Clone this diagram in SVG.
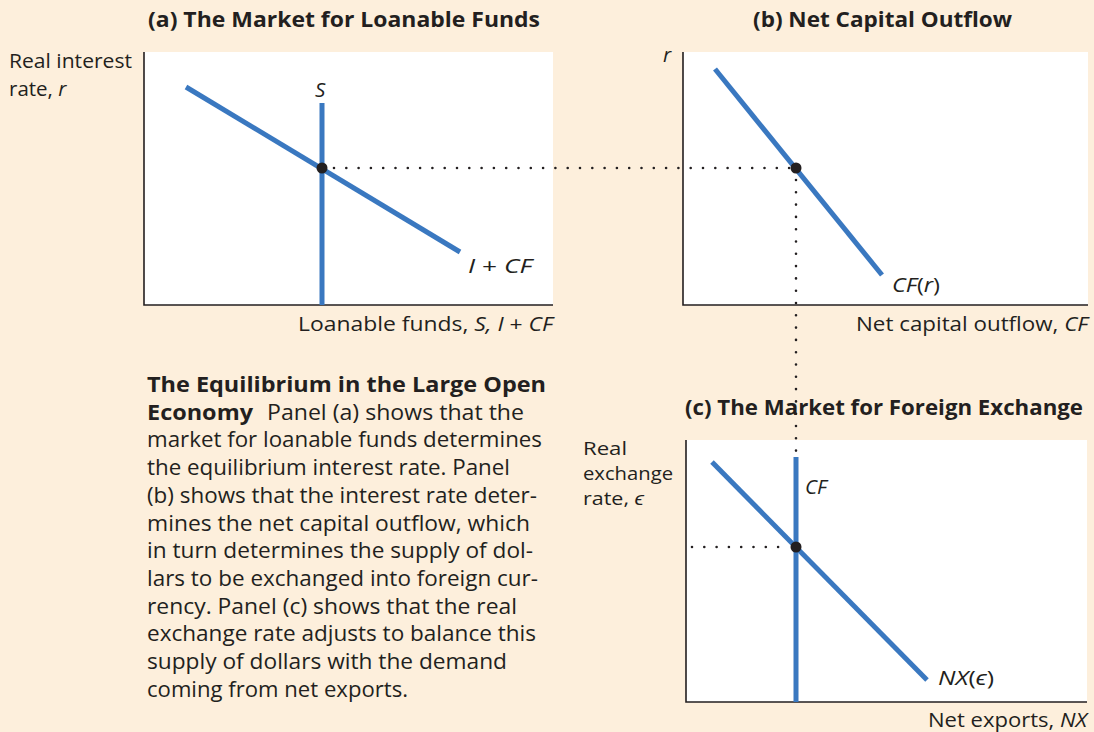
<svg xmlns="http://www.w3.org/2000/svg" width="1094" height="732" viewBox="0 0 1094 732">
<style>
.t{font-family:"Open Sans","Liberation Sans",sans-serif;fill:#231F20}
.title{font-size:20.5px;font-weight:700}
.lab{font-size:20.5px}
.lab2{font-size:18px}
.i{font-style:italic}
.cap{font-size:22px}
.capb{font-family:"Open Sans","Liberation Sans",sans-serif;font-weight:700;font-size:20.5px;fill:#231F20}
.ax{fill:none;stroke:#231F20;stroke-width:1.6}
.curve{stroke:#3A78C0;stroke-width:5;fill:none}
.dot{stroke:#231F20;stroke-width:2.6;stroke-linecap:round;stroke-dasharray:0 12.3;fill:none}
.eq{fill:#231F20}
</style>
<rect width="1094" height="732" fill="#FDEFDC"/>
<g id="panel-a">
<text class="t title" x="148" y="27" textLength="392" lengthAdjust="spacingAndGlyphs">(a) The Market for Loanable Funds</text>
<rect x="144" y="52" width="409" height="253" fill="#fff"/>
<path class="ax" d="M144,52V305H553"/>
<text class="t lab" x="9" y="68" textLength="123" lengthAdjust="spacingAndGlyphs">Real interest</text>
<text class="t lab" x="9" y="96">rate, <tspan class="i">r</tspan></text>
<text class="t lab" x="298" y="331" textLength="255" lengthAdjust="spacingAndGlyphs">Loanable funds, <tspan class="i">S, I</tspan> + <tspan class="i">CF</tspan></text>
</g>
<g id="panel-b">
<text class="t title" x="753" y="27" textLength="259" lengthAdjust="spacingAndGlyphs">(b) Net Capital Outflow</text>
<rect x="683" y="52" width="405" height="253" fill="#fff"/>
<path class="ax" d="M683,52V305H1088"/>
<text class="t lab i" x="663" y="62">r</text>
<text class="t lab" x="856" y="331" textLength="232" lengthAdjust="spacingAndGlyphs">Net capital outflow, <tspan class="i">CF</tspan></text>
</g>
<g id="panel-c">
<text class="t title" x="685" y="415" textLength="398" lengthAdjust="spacingAndGlyphs">(c) The Market for Foreign Exchange</text>
<rect x="686" y="440" width="401" height="262" fill="#fff"/>
<path class="ax" d="M686,440V702H1087"/>
<text class="t lab2" x="583" y="455" textLength="44" lengthAdjust="spacingAndGlyphs">Real</text>
<text class="t lab2" x="583" y="480" textLength="90" lengthAdjust="spacingAndGlyphs">exchange</text>
<text class="t lab2" x="583" y="505" textLength="61" lengthAdjust="spacingAndGlyphs">rate, <tspan class="i">ϵ</tspan></text>
<text class="t lab" x="928" y="727" textLength="159" lengthAdjust="spacingAndGlyphs">Net exports, <tspan class="i">NX</tspan></text>
</g>
<g id="connectors">
<path class="dot" d="M334,168H796"/>
<path class="dot" d="M796,180V457"/>
<path class="dot" d="M692,547H784"/>
</g>
<g id="curve-S">
<path class="curve" d="M322,103V305"/>
<text class="t lab i" x="315" y="97">S</text>
</g>
<g id="curve-ICF">
<path class="curve" d="M186,87L460,252"/>
<text class="t lab" x="468" y="273" textLength="64" lengthAdjust="spacingAndGlyphs"><tspan class="i">I</tspan> + <tspan class="i">CF</tspan></text>
</g>
<g id="curve-CFr">
<path class="curve" d="M715,69L882,275"/>
<text class="t lab" x="892" y="292" textLength="48" lengthAdjust="spacingAndGlyphs"><tspan class="i">CF</tspan>(<tspan class="i">r</tspan>)</text>
</g>
<g id="curve-CF">
<path class="curve" d="M796,457V702"/>
<text class="t lab i" x="805" y="494">CF</text>
</g>
<g id="curve-NX">
<path class="curve" d="M712,462L927,680"/>
<text class="t lab" x="938" y="685" textLength="56" lengthAdjust="spacingAndGlyphs"><tspan class="i">NX</tspan>(<tspan class="i">ϵ</tspan>)</text>
</g>
<g id="equilibria">
<circle class="eq" cx="322" cy="168" r="5.5"/>
<circle class="eq" cx="796" cy="168" r="5.5"/>
<circle class="eq" cx="796" cy="547" r="5.5"/>
</g>
<g id="caption">
<text class="capb" x="147" y="392" textLength="399" lengthAdjust="spacingAndGlyphs">The Equilibrium in the Large Open</text>
<text class="capb" x="147" y="419.7" textLength="106" lengthAdjust="spacingAndGlyphs">Economy</text>
<text class="t cap" x="267" y="419.7" textLength="257" lengthAdjust="spacingAndGlyphs">Panel (a) shows that the</text>
<text class="t cap" x="147" y="447.4" textLength="395" lengthAdjust="spacingAndGlyphs">market for loanable funds determines</text>
<text class="t cap" x="147" y="475.1" textLength="363" lengthAdjust="spacingAndGlyphs">the equilibrium interest rate. Panel</text>
<text class="t cap" x="147" y="502.8" textLength="390" lengthAdjust="spacingAndGlyphs">(b) shows that the interest rate deter-</text>
<text class="t cap" x="147" y="530.5" textLength="383" lengthAdjust="spacingAndGlyphs">mines the net capital outflow, which</text>
<text class="t cap" x="147" y="558.2" textLength="386" lengthAdjust="spacingAndGlyphs">in turn determines the supply of dol-</text>
<text class="t cap" x="147" y="585.9" textLength="391" lengthAdjust="spacingAndGlyphs">lars to be exchanged into foreign cur-</text>
<text class="t cap" x="147" y="613.6" textLength="370" lengthAdjust="spacingAndGlyphs">rency. Panel (c) shows that the real</text>
<text class="t cap" x="147" y="641.3" textLength="389" lengthAdjust="spacingAndGlyphs">exchange rate adjusts to balance this</text>
<text class="t cap" x="147" y="669" textLength="360" lengthAdjust="spacingAndGlyphs">supply of dollars with the demand</text>
<text class="t cap" x="147" y="696.7" textLength="261" lengthAdjust="spacingAndGlyphs">coming from net exports.</text>
</g>
</svg>
